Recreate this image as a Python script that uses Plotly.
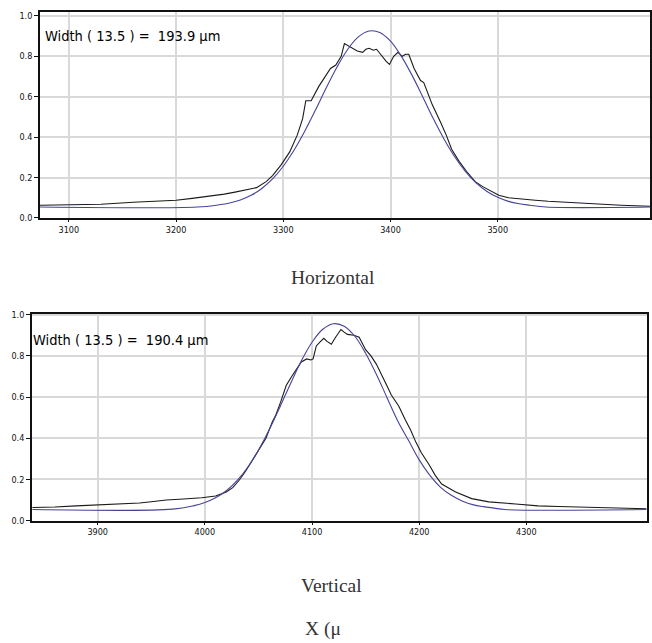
import plotly.graph_objects as go

# ---------------- data: Horizontal profile ----------------
h_meas_x = [3073, 3100, 3130, 3160, 3190, 3200, 3215, 3230, 3245, 3255, 3265, 3275, 3284, 3290,
            3298, 3306, 3313, 3318, 3321, 3326, 3333, 3339, 3344, 3349, 3354, 3357, 3361, 3365,
            3369, 3374, 3377, 3380, 3384, 3387, 3392, 3396, 3399, 3403, 3407, 3411, 3414, 3417,
            3422, 3428, 3431, 3439, 3447, 3452, 3457, 3464, 3471, 3479, 3486, 3492, 3501, 3510,
            3520, 3535, 3547, 3560, 3573, 3594, 3615, 3642]
h_meas_y = [0.063, 0.064, 0.068, 0.078, 0.085, 0.088, 0.097, 0.107, 0.118, 0.128, 0.138, 0.150, 0.180, 0.21,
            0.263, 0.327, 0.41, 0.49, 0.58, 0.58, 0.65, 0.70, 0.74, 0.757, 0.80, 0.863, 0.85, 0.835,
            0.826, 0.82, 0.835, 0.84, 0.83, 0.835, 0.80, 0.775, 0.76, 0.80, 0.82, 0.80, 0.81, 0.81,
            0.74, 0.68, 0.67, 0.56, 0.47, 0.41, 0.34, 0.28, 0.23, 0.18, 0.155, 0.137, 0.112, 0.10,
            0.094, 0.088, 0.083, 0.079, 0.075, 0.068, 0.063, 0.058]

h_fit_x = [3073, 3220, 3240, 3250, 3260, 3270, 3280, 3290, 3300, 3310, 3320, 3330, 3340, 3350,
           3360, 3370, 3380, 3390, 3400, 3410, 3420, 3430, 3440, 3450, 3460, 3470, 3480, 3490,
           3500, 3510, 3520, 3530, 3545, 3642]
h_fit_y = [0.054, 0.054, 0.065, 0.074, 0.089, 0.112, 0.146, 0.193, 0.256, 0.335, 0.429, 0.534, 0.643, 0.746,
           0.834, 0.896, 0.925, 0.918, 0.875, 0.801, 0.707, 0.600, 0.491, 0.390, 0.302, 0.229, 0.172, 0.131,
           0.102, 0.082, 0.070, 0.063, 0.054, 0.054]

# ---------------- data: Vertical profile ----------------
v_meas_x = [3839, 3860, 3880, 3900, 3911, 3925, 3939, 3950, 3964, 3980, 3997, 4010, 4020, 4026,
            4032, 4038, 4044, 4050, 4057, 4063, 4066, 4071, 4076, 4081, 4086, 4090, 4095, 4099,
            4101, 4104, 4108, 4111, 4114, 4118, 4122, 4127, 4130, 4133, 4139, 4144, 4150, 4155,
            4160, 4164, 4169, 4174, 4181, 4187, 4192, 4197, 4202, 4209, 4215, 4221, 4234, 4249,
            4265, 4290, 4311, 4330, 4351, 4375, 4398, 4412]
v_meas_y = [0.064, 0.066, 0.072, 0.076, 0.081, 0.083, 0.086, 0.092, 0.10, 0.105, 0.111, 0.12, 0.139, 0.16,
            0.196, 0.24, 0.29, 0.34, 0.40, 0.48, 0.51, 0.58, 0.657, 0.70, 0.74, 0.77, 0.785, 0.78,
            0.785, 0.848, 0.87, 0.885, 0.87, 0.856, 0.89, 0.928, 0.915, 0.904, 0.90, 0.89, 0.83, 0.80,
            0.76, 0.72, 0.665, 0.61, 0.555, 0.49, 0.44, 0.38, 0.33, 0.274, 0.22, 0.178, 0.139, 0.107,
            0.091, 0.081, 0.072, 0.069, 0.067, 0.063, 0.059, 0.058]

v_fit_x = [3839, 3970, 3990, 4000, 4010, 4020, 4030, 4040, 4050, 4060, 4070, 4080, 4090, 4100,
           4110, 4120, 4130, 4140, 4150, 4160, 4170, 4180, 4190, 4200, 4210, 4220, 4230, 4240,
           4250, 4260, 4270, 4280, 4412]
v_fit_y = [0.054, 0.056, 0.073, 0.088, 0.111, 0.145, 0.194, 0.259, 0.342, 0.441, 0.551, 0.666, 0.775, 0.866,
           0.929, 0.956, 0.944, 0.895, 0.813, 0.711, 0.597, 0.484, 0.390, 0.295, 0.220, 0.162, 0.123, 0.096,
           0.078, 0.068, 0.061, 0.054, 0.054]

y_ticks = [0.0, 0.2, 0.4, 0.6, 0.8, 1.0]
y_ticktext = ["0.0", "0.2", "0.4", "0.6", "0.8", "1.0"]
h_xticks = [3100, 3200, 3300, 3400, 3500]
v_xticks = [3900, 4000, 4100, 4200, 4300]
h_label = "Width ( 13.5 ) =  193.9 µm"
v_label = "Width ( 13.5 ) =  190.4 µm"
captions = ["Horizontal", "Vertical", "X (μ"]

W, H = 652, 643
MEAS_COLOR = "#1a1a1a"
FIT_COLOR = "#46449a"
NARROW = "DejaVu Sans Condensed, Liberation Sans Narrow, Arial Narrow, sans-serif"

fig = go.Figure()
fig.add_trace(go.Scatter(x=h_meas_x, y=h_meas_y, mode="lines", line=dict(color=MEAS_COLOR, width=1.1),
                         xaxis="x", yaxis="y", showlegend=False))
fig.add_trace(go.Scatter(x=h_fit_x, y=h_fit_y, mode="lines", line=dict(color=FIT_COLOR, width=1.1, shape="spline"),
                         xaxis="x", yaxis="y", showlegend=False))
fig.add_trace(go.Scatter(x=v_meas_x, y=v_meas_y, mode="lines", line=dict(color=MEAS_COLOR, width=1.1),
                         xaxis="x2", yaxis="y2", showlegend=False))
fig.add_trace(go.Scatter(x=v_fit_x, y=v_fit_y, mode="lines", line=dict(color=FIT_COLOR, width=1.1, shape="spline"),
                         xaxis="x2", yaxis="y2", showlegend=False))

def px_x(p):
    return p / W

def px_y(p):
    return 1 - p / H

tickfont = dict(family=NARROW, size=9, color="#111")
common_x = dict(showgrid=True, gridcolor="#d9d9d9", gridwidth=1.5, showline=True, linecolor="#111",
                linewidth=2, mirror=True, ticks="outside", ticklen=2, tickcolor="#111",
                tickfont=tickfont, zeroline=False, fixedrange=True)
common_y = dict(showgrid=True, gridcolor="#d9d9d9", gridwidth=1.5, showline=True, linecolor="#111",
                linewidth=1.5, mirror=True, ticks="outside", ticklen=4, tickcolor="#111",
                tickfont=tickfont, zeroline=False, tickvals=y_ticks, ticktext=y_ticktext, fixedrange=True)

fig.update_layout(
    width=W, height=H, margin=dict(l=0, r=0, t=0, b=0),
    paper_bgcolor="white", plot_bgcolor="white",
    xaxis=dict(common_x, domain=[px_x(40), 1.0], range=[3073, 3642], tickvals=h_xticks, anchor="y"),
    yaxis=dict(common_y, domain=[px_y(217), px_y(8)], range=[0, 1.02], anchor="x"),
    xaxis2=dict(common_x, domain=[px_x(32), px_x(649)], range=[3838.6, 4412.6], tickvals=v_xticks, anchor="y2"),
    yaxis2=dict(common_y, domain=[px_y(524), px_y(314)], range=[0, 1.005], anchor="x2"),
)

fig.add_annotation(text=h_label, x=px_x(43), y=px_y(32), xref="paper", yref="paper",
                   xanchor="left", yanchor="middle", showarrow=False,
                   font=dict(family=NARROW, size=14.5, color="#000"))
fig.add_annotation(text=v_label, x=px_x(31), y=px_y(341), xref="paper", yref="paper",
                   xanchor="left", yanchor="middle", showarrow=False,
                   font=dict(family=NARROW, size=14.5, color="#000"))

serif = dict(family="Liberation Serif, Times New Roman, serif", size=19.5, color="#333")
fig.add_annotation(text=captions[0], x=px_x(334), y=px_y(277), xref="paper", yref="paper",
                   xanchor="center", yanchor="middle", showarrow=False, font=serif)
fig.add_annotation(text=captions[1], x=px_x(333), y=px_y(590), xref="paper", yref="paper",
                   xanchor="center", yanchor="middle", showarrow=False, font=serif)
fig.add_annotation(text=captions[2], x=px_x(304), y=px_y(634), xref="paper", yref="paper",
                   xanchor="left", yanchor="middle", showarrow=False, font=serif)

fig.write_html("out.html")
